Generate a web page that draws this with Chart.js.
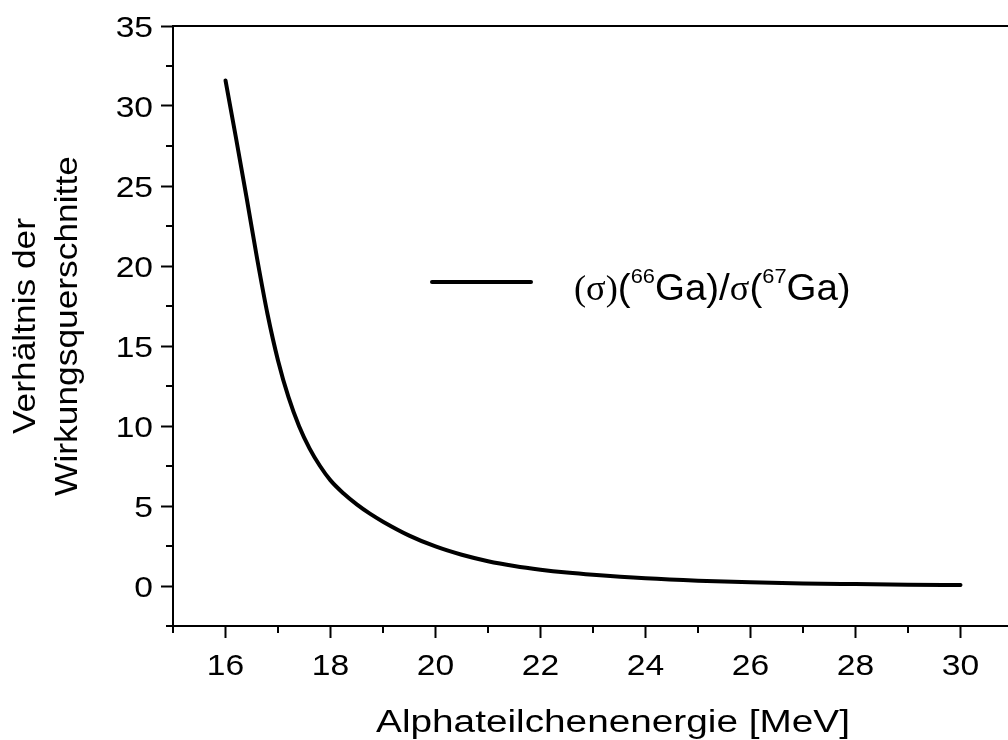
<!DOCTYPE html>
<html>
<head>
<meta charset="utf-8">
<script src="https://cdn.jsdelivr.net/npm/chart.js@4/dist/chart.umd.min.js"></script>
<style>
html,body{margin:0;padding:0;background:#fff;overflow:hidden;width:1008px;height:740px;}
#wrap{position:absolute;left:0;top:0;width:1030px;height:740px;}
</style>
</head>
<body>
<div id="wrap"><canvas id="c" width="1030" height="740"></canvas></div>
<script>
// ---- data ----
const energy = [16, 16.2, 16.4, 16.6, 16.8, 17, 17.2, 17.4, 17.6, 17.8, 18, 18.25, 18.5, 18.75, 19, 19.5, 20, 20.5, 21, 21.5, 22, 22.5, 23, 24, 25, 26, 27, 28, 29, 30];
const ratio  = [31.6, 28.0, 24.3, 20.5, 17.0, 14.1, 11.8, 10.0, 8.6, 7.5, 6.6, 5.78, 5.1, 4.52, 4.02, 3.15, 2.47, 1.95, 1.55, 1.25, 1.02, 0.84, 0.7, 0.48, 0.33, 0.23, 0.16, 0.12, 0.085, 0.06];
const xMajorTicks = [16, 18, 20, 22, 24, 26, 28, 30];
const xMinorTicks = [15, 17, 19, 21, 23, 25, 27, 29, 31];
const yMajorTicks = [0, 5, 10, 15, 20, 25, 30, 35];
const yMinorTicks = [-2.5, 2.5, 7.5, 12.5, 17.5, 22.5, 27.5, 32.5];
const seriesLabelParts = [
  {t:'(σ)', f:'serif'}, {t:'(', f:'sans'}, {t:'66', f:'sup'}, {t:'Ga)/', f:'sans'},
  {t:'σ', f:'serif'}, {t:'(', f:'sans'}, {t:'67', f:'sup'}, {t:'Ga)', f:'sans'}
];
const xTitle = 'Alphateilchenenergie [MeV]';
const yTitle = ['Verhältnis der', 'Wirkungsquerschnitte'];

const SANS = "'Liberation Sans', Arial, sans-serif";
const SERIF = "'Liberation Serif', 'Times New Roman', serif";

function stretchedText(ctx, text, x, y, font, align, sx, rot) {
  ctx.save();
  ctx.translate(x, y);
  if (rot) ctx.rotate(rot);
  ctx.scale(sx, 1);
  ctx.font = font;
  ctx.textAlign = align;
  ctx.textBaseline = 'alphabetic';
  ctx.fillStyle = '#000';
  ctx.fillText(text, 0, 0);
  ctx.restore();
}

const decorPlugin = {
  id: 'decor',
  afterDraw(chart) {
    const ctx = chart.ctx;
    const xs = chart.scales.x, ys = chart.scales.y;
    const ca = chart.chartArea;
    ctx.save();
    ctx.strokeStyle = '#000';
    ctx.lineWidth = 2;
    ctx.beginPath();
    xMinorTicks.forEach(v => {
      const px = xs.getPixelForValue(v);
      ctx.moveTo(px, ca.bottom); ctx.lineTo(px, ca.bottom + 7);
    });
    yMinorTicks.forEach(v => {
      const py = ys.getPixelForValue(v);
      ctx.moveTo(ca.left, py); ctx.lineTo(ca.left - 7, py);
    });
    ctx.stroke();
    ctx.beginPath();
    ctx.moveTo(ca.left - 1, ca.top); ctx.lineTo(ca.right + 1, ca.top);
    ctx.moveTo(ca.right, ca.top); ctx.lineTo(ca.right, ca.bottom);
    ctx.stroke();
    ctx.restore();

    // tick labels
    const tickFont = '30px ' + SANS;
    xMajorTicks.forEach(v => {
      stretchedText(ctx, String(v), xs.getPixelForValue(v), ca.bottom + 49, tickFont, 'center', 1.12);
    });
    yMajorTicks.forEach(v => {
      stretchedText(ctx, String(v), ca.left - 20, ys.getPixelForValue(v) + 10.8, tickFont, 'right', 1.12);
    });

    // axis titles
    stretchedText(ctx, xTitle, ca.left + 440, 732, '31px ' + SANS, 'center', 1.25);
    const cy = (ca.top + ca.bottom) / 2;
    stretchedText(ctx, yTitle[0], 35, cy, '31px ' + SANS, 'center', 1.14, -Math.PI / 2);
    stretchedText(ctx, yTitle[1], 77, cy, '31px ' + SANS, 'center', 1.14, -Math.PI / 2);

    // legend
    const lx = ca.left + 259, ly = ca.top + 256;
    ctx.save();
    ctx.strokeStyle = '#000';
    ctx.lineWidth = 4;
    ctx.lineCap = 'round';
    ctx.beginPath();
    ctx.moveTo(lx, ly); ctx.lineTo(lx + 99, ly);
    ctx.stroke();
    ctx.restore();
    let x = lx + 142;
    const base = ly + 18;
    const sx = 1.04;
    seriesLabelParts.forEach(p => {
      let font, y = base;
      if (p.f === 'serif') font = '35px ' + SERIF;
      else if (p.f === 'sup') { font = '21px ' + SANS; y = base - 17; }
      else font = '37px ' + SANS;
      stretchedText(ctx, p.t, x, y, font, 'left', sx);
      ctx.save(); ctx.font = font;
      x += ctx.measureText(p.t).width * sx;
      ctx.restore();
    });
  }
};

new Chart(document.getElementById('c'), {
  type: 'line',
  data: {
    datasets: [{
      label: 'ratio',
      data: energy.map((e, i) => ({x: e, y: ratio[i]})),
      borderColor: '#000',
      borderWidth: 4,
      pointRadius: 0,
      fill: false,
      cubicInterpolationMode: 'monotone',
      borderCapStyle: 'round'
    }]
  },
  options: {
    responsive: false,
    animation: false,
    layout: {padding: {left: 0, top: 26, right: 17, bottom: 0}},
    plugins: {legend: {display: false}, tooltip: {enabled: false}},
    scales: {
      x: {
        type: 'linear', position: 'bottom', min: 15, max: 31,
        afterBuildTicks: s => { s.ticks = xMajorTicks.map(v => ({value: v})); },
        afterFit: s => { s.height = 114; },
        grid: {drawOnChartArea: false, drawTicks: true, tickLength: 12, tickWidth: 2, tickColor: '#000'},
        border: {color: '#000', width: 2},
        ticks: {display: false},
        title: {display: false}
      },
      y: {
        type: 'linear', position: 'left', min: -2.5, max: 35,
        afterBuildTicks: s => { s.ticks = yMajorTicks.map(v => ({value: v})); },
        afterFit: s => { s.width = 173; },
        grid: {drawOnChartArea: false, drawTicks: true, tickLength: 12, tickWidth: 2, tickColor: '#000'},
        border: {color: '#000', width: 2},
        ticks: {display: false},
        title: {display: false}
      }
    }
  },
  plugins: [decorPlugin]
});
</script>
</body>
</html>
